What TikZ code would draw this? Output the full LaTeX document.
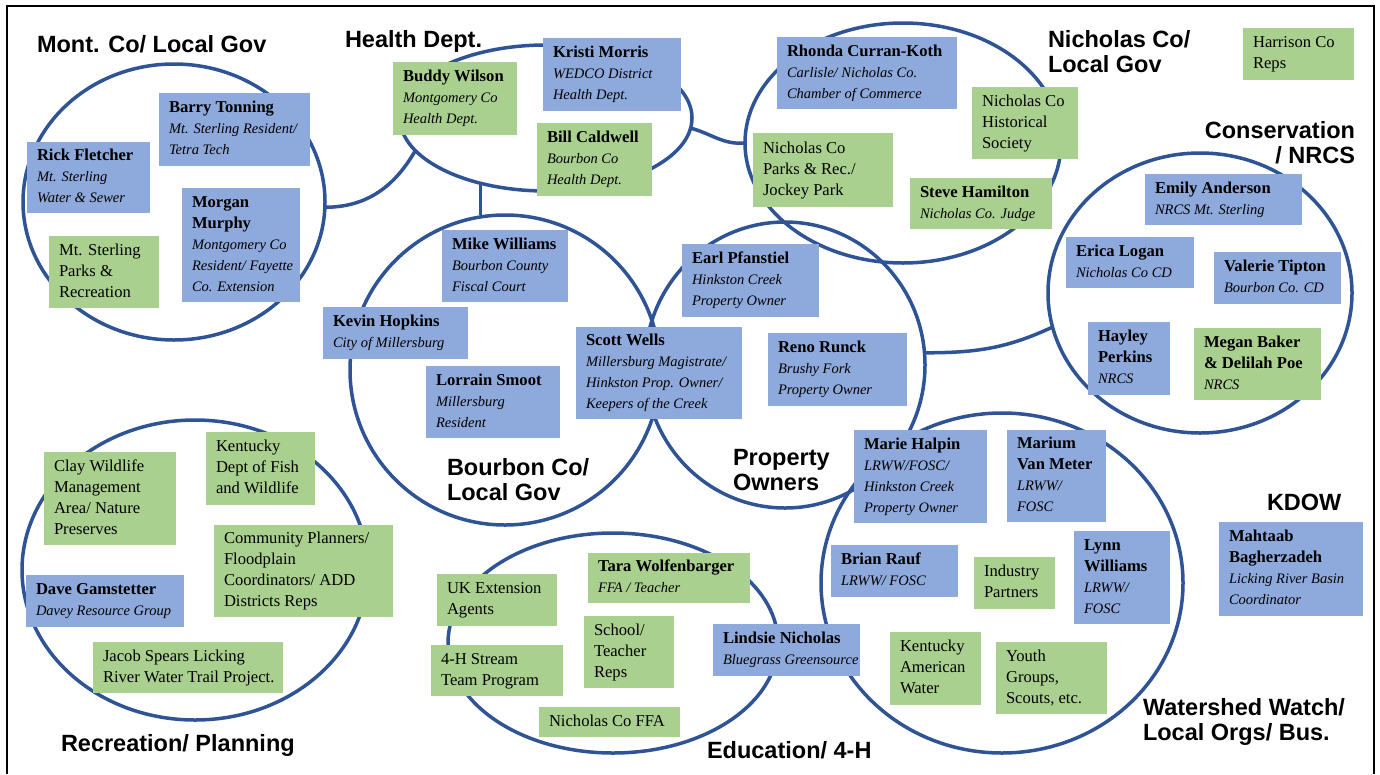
\documentclass[tikz,border=0pt]{standalone}
\usepackage{fontspec}
\setmainfont{Liberation Serif}
\newfontfamily\headfont{Liberation Sans}
\usetikzlibrary{shapes.geometric}
\definecolor{cblue}{RGB}{47,84,150}
\definecolor{bfill}{RGB}{142,169,219}
\definecolor{gfill}{RGB}{169,208,142}
\newcommand\nmf{\fontsize{16.6}{21}\selectfont\bfseries}
\newcommand\rlf{\fontsize{14.5}{21}\selectfont\itshape}
\newcommand\mybox[7]{%
 \pgfmathsetmacro\mybw{#5-#3}%
 \pgfmathsetmacro\mybh{#6-#4}%
 \pgfmathsetmacro\mytw{#5-#3-20}%
 \node[#1, minimum width=\mybw pt, minimum height=\mybh pt] (#2) at (#3,#4)
   {\makebox[\mytw pt][l]{\begin{tabular}{@{}l@{}}#7\end{tabular}}};}
\tikzset{
 boxbase/.style={anchor=north west, inner xsep=10pt, inner ysep=0pt, outer sep=0pt, font=\fontsize{16.6}{21}\selectfont},
 bluebox/.style={boxbase, fill=bfill},
 greenbox/.style={boxbase, fill=gfill},
 grp/.style={ellipse, draw=cblue, line width=3.5pt, inner sep=0pt, outer sep=0pt},
 conn/.style={draw=cblue, line width=3.5pt},
 heading/.style={font=\headfont\bfseries\fontsize{23.5}{25}\selectfont, inner sep=0pt, outer sep=0pt, anchor=base west},
}
\begin{document}
\begin{tikzpicture}[x=1pt,y=-1pt]
\useasboundingbox (0,0) rectangle (1380,774);
\fill[white] (0,0) rectangle (1380,774);
% frame
\draw[line width=2.5pt] (7,774) -- (7,6) -- (1374,6) -- (1374,774);
% groups
\node[grp, minimum width=302pt, minimum height=276pt] (mont) at (174,202) {};
\node[grp, minimum width=292pt, minimum height=146pt] (health) at (546,118) {};
\node[grp, minimum width=316pt, minimum height=240pt] (nich) at (903,143) {};
\node[grp, minimum width=304pt, minimum height=280pt] (cons) at (1200,293) {};
\node[grp, minimum width=310pt, minimum height=310pt] (bourbon) at (505,370) {};
\node[grp, minimum width=280pt, minimum height=286pt] (prop) at (785,365) {};
\node[grp, minimum width=346pt, minimum height=300pt] (recr) at (195,570) {};
\node[grp, minimum width=330pt, minimum height=220pt] (educ) at (613,643) {};
\node[grp, minimum width=362pt, minimum height=340pt] (water) at (1002,583) {};
% connectors
\draw[conn] (mont.-2) to[out=0,in=-120] (health.194);
\draw[conn] (health.-135) -- (health.-135 |- bourbon.north);
\draw[conn] (health.-4) to[out=-15,in=185] (nich.west);
\draw[conn] (prop.5) to[out=0,in=-155] (cons.193);
% headings
\node[heading] (lmont) at (37,52) {Mont. Co/ Local Gov};
\node[heading] (lhealth) at (345,47) {Health Dept.};
\node[heading] (lnich) at (1048,47) {\begin{tabular}[t]{@{}l@{}}Nicholas Co/\\Local Gov\end{tabular}};
\node[heading, anchor=base east] (lcons) at (1355,138) {\begin{tabular}[t]{@{}r@{}}Conservation\\/ NRCS\end{tabular}};
\node[heading] (lbourbon) at (447,475) {\begin{tabular}[t]{@{}l@{}}Bourbon Co/\\Local Gov\end{tabular}};
\node[heading] (lprop) at (733,465) {\begin{tabular}[t]{@{}l@{}}Property\\Owners\end{tabular}};
\node[heading] (lkdow) at (1267,510) {KDOW};
\node[heading] (lrecr) at (61,751) {Recreation/ Planning};
\node[heading] (leduc) at (707,758) {Education/ 4-H};
\node[heading] (lwater) at (1143,715) {\begin{tabular}[t]{@{}l@{}}Watershed Watch/\\Local Orgs/ Bus.\end{tabular}};
% Mont Co
\mybox{bluebox}{barry}{159}{93}{310}{166}{\nmf Barry Tonning\\ \rlf Mt. Sterling Resident/\\ \rlf Tetra Tech}
\mybox{bluebox}{rick}{27}{142}{150}{213}{\nmf Rick Fletcher\\ \rlf Mt. Sterling\\ \rlf Water \& Sewer}
\mybox{bluebox}{morgan}{182}{188}{300}{302}{\nmf Morgan\\ \nmf Murphy\\ \rlf Montgomery Co\\ \rlf Resident/ Fayette\\ \rlf Co. Extension}
\mybox{greenbox}{msparks}{49}{236}{159}{308}{Mt. Sterling\\Parks \&\\Recreation}
% Health
\mybox{greenbox}{buddy}{393}{62}{517}{135}{\nmf Buddy Wilson\\ \rlf Montgomery Co\\ \rlf Health Dept.}
\mybox{bluebox}{kristi}{543}{38}{681}{111}{\nmf Kristi Morris\\ \rlf WEDCO District\\ \rlf Health Dept.}
\mybox{greenbox}{bill}{537}{123}{652}{196}{\nmf Bill Caldwell\\ \rlf Bourbon Co\\ \rlf Health Dept.}
% Nicholas
\mybox{bluebox}{rhonda}{777}{37}{957}{109}{\nmf Rhonda Curran-Koth\\ \rlf Carlisle/ Nicholas Co.\\ \rlf Chamber of Commerce}
\mybox{greenbox}{nhist}{972}{87}{1078}{159}{Nicholas Co\\Historical\\Society}
\mybox{greenbox}{nparks}{753}{133}{893}{207}{Nicholas Co\\Parks \& Rec./\\Jockey Park}
\mybox{greenbox}{steve}{910}{178}{1052}{229}{\nmf Steve Hamilton\\ \rlf Nicholas Co. Judge}
\mybox{greenbox}{harrison}{1243}{28}{1354}{80}{Harrison Co\\Reps}
% Conservation
\mybox{bluebox}{emily}{1145}{174}{1302}{225}{\nmf Emily Anderson\\ \rlf NRCS Mt. Sterling}
\mybox{bluebox}{erica}{1066}{237}{1194}{288}{\nmf Erica Logan\\ \rlf Nicholas Co CD}
\mybox{bluebox}{valerie}{1214}{252}{1341}{304}{\nmf Valerie Tipton\\ \rlf Bourbon Co. CD}
\mybox{bluebox}{hayley}{1088}{322}{1170}{395}{\nmf Hayley\\ \nmf Perkins\\ \rlf NRCS}
\mybox{greenbox}{megan}{1194}{328}{1321}{400}{\nmf Megan Baker\\ \nmf \& Delilah Poe\\ \rlf NRCS}
% Bourbon
\mybox{bluebox}{mike}{442}{230}{568}{302}{\nmf Mike Williams\\ \rlf Bourbon County\\ \rlf Fiscal Court}
\mybox{bluebox}{kevin}{323}{307}{468}{359}{\nmf Kevin Hopkins\\ \rlf City of Millersburg}
\mybox{bluebox}{lorrain}{426}{366}{560}{438}{\nmf Lorrain Smoot\\ \rlf Millersburg\\ \rlf Resident}
% Property
\mybox{bluebox}{earl}{682}{244}{819}{317}{\nmf Earl Pfanstiel\\ \rlf Hinkston Creek\\ \rlf Property Owner}
\mybox{bluebox}{scott}{576}{327}{742}{419}{\nmf Scott Wells\\ \rlf Millersburg Magistrate/\\ \rlf Hinkston Prop. Owner/\\ \rlf Keepers of the Creek}
\mybox{bluebox}{reno}{768}{333}{907}{406}{\nmf Reno Runck\\ \rlf Brushy Fork\\ \rlf Property Owner}
% Watershed
\mybox{bluebox}{marie}{854}{430}{987}{523}{\nmf Marie Halpin\\ \rlf LRWW/FOSC/\\ \rlf Hinkston Creek\\ \rlf Property Owner}
\mybox{bluebox}{marium}{1007}{430}{1106}{522}{\nmf Marium\\ \nmf Van Meter\\ \rlf LRWW/\\ \rlf FOSC}
\mybox{bluebox}{brian}{831}{545}{958}{597}{\nmf Brian Rauf\\ \rlf LRWW/ FOSC}
\mybox{greenbox}{industry}{974}{557}{1055}{609}{Industry\\Partners}
\mybox{bluebox}{lynn}{1074}{531}{1170}{624}{\nmf Lynn\\ \nmf Williams\\ \rlf LRWW/\\ \rlf FOSC}
\mybox{greenbox}{kaw}{890}{632}{981}{705}{Kentucky\\American\\Water}
\mybox{greenbox}{youth}{996}{642}{1107}{714}{Youth\\Groups,\\Scouts, etc.}
% KDOW
\mybox{bluebox}{mahtaab}{1219}{522}{1363}{616}{\nmf Mahtaab\\ \nmf Bagherzadeh\\ \rlf Licking River Basin\\ \rlf Coordinator}
% Recreation
\mybox{greenbox}{clay}{44}{452}{176}{545}{Clay Wildlife\\Management\\Area/ Nature\\Preserves}
\mybox{greenbox}{kdfw}{206}{432}{315}{505}{Kentucky\\Dept of Fish\\and Wildlife}
\mybox{greenbox}{planners}{214}{525}{393}{617}{Community Planners/\\Floodplain\\Coordinators/ ADD\\Districts Reps}
\mybox{bluebox}{dave}{26}{575}{184}{627}{\nmf Dave Gamstetter\\ \rlf Davey Resource Group}
\mybox{greenbox}{jacob}{93}{642}{283}{693}{Jacob Spears Licking\\River Water Trail Project.}
% Education
\mybox{greenbox}{ukext}{437}{574}{557}{626}{UK Extension\\Agents}
\mybox{greenbox}{tara}{588}{553}{750}{603}{\nmf Tara Wolfenbarger\\ \rlf FFA / Teacher}
\mybox{greenbox}{school}{584}{616}{674}{688}{School/\\Teacher\\Reps}
\mybox{greenbox}{fourh}{431}{645}{563}{696}{4-H Stream\\Team Program}
\mybox{greenbox}{nffa}{539}{707}{680}{737}{Nicholas Co FFA}
\mybox{bluebox}{lindsie}{713}{624}{860}{676}{\nmf Lindsie Nicholas\\ \rlf Bluegrass Greensource}
\end{tikzpicture}
\end{document}
